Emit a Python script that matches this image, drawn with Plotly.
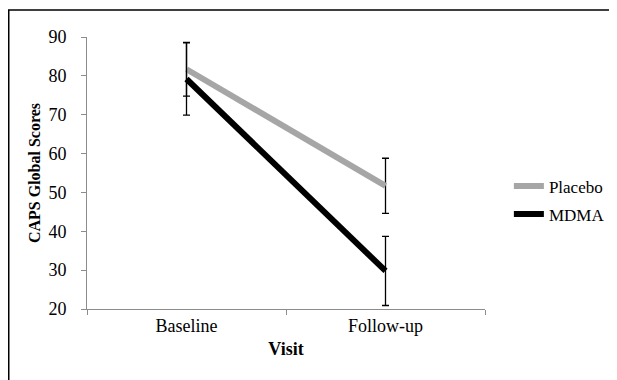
import plotly.graph_objects as go

visits = ["Baseline", "Follow-up"]
placebo = [81.7, 51.7]
placebo_err = [6.9, 7.1]
mdma = [79.2, 29.8]
mdma_err = [9.3, 8.9]
y_ticks = [20, 30, 40, 50, 60, 70, 80, 90]

FONT = "Liberation Serif"
AXIS_COLOR = "#8c8c8c"

fig = go.Figure()
fig.add_trace(go.Scatter(
    x=visits, y=placebo, name="Placebo", mode="lines", legendgroup="p",
    line=dict(color="#a6a6a6", width=6),
    error_y=dict(type="data", array=placebo_err, visible=True,
                 color="black", thickness=1.3, width=3.5),
))
fig.add_trace(go.Scatter(
    x=visits, y=mdma, name="MDMA", mode="lines", legendgroup="m",
    line=dict(color="black", width=6),
    error_y=dict(type="data", array=mdma_err, visible=True,
                 color="black", thickness=1.3, width=3.5),
))

W, H = 617, 380
L, T, PW, PH = 79, 29, 398, 272
fig.update_layout(
    width=W, height=H,
    margin=dict(l=L, r=W - L - PW, t=T, b=H - T - PH),
    paper_bgcolor="white", plot_bgcolor="white",
    font=dict(family=FONT, size=18, color="black"),
    showlegend=True,
    legend=dict(x=1.06, y=0.399, yanchor="middle", xanchor="left",
                font=dict(family=FONT, size=17), traceorder="grouped",
                tracegroupgap=3, bgcolor="rgba(0,0,0,0)"),
    xaxis=dict(
        range=[-0.5, 1.5], showline=True, linecolor=AXIS_COLOR, linewidth=1,
        ticks="outside", tickson="boundaries", ticklen=5, tickcolor=AXIS_COLOR,
        showgrid=False, zeroline=False,
        title=dict(text="<b>Visit</b>", font=dict(family=FONT, size=18), standoff=7),
    ),
    yaxis=dict(
        range=[20, 90], tickvals=y_ticks, showline=True, linecolor=AXIS_COLOR,
        linewidth=1, ticks="outside", ticklen=5, tickcolor=AXIS_COLOR,
        showgrid=False, zeroline=False, ticklabelstandoff=11,
        title=dict(text="<b>CAPS Global Scores</b>", font=dict(family=FONT, size=16), standoff=3),
    ),
)

# outer frame around the chart
fig.add_shape(type="rect", xref="paper", yref="paper",
              x0=(0.75 - L) / PW, x1=(604 - L) / PW,
              y0=-(H + 20 - T - PH) / PH, y1=(T + PH - 2) / PH,
              line=dict(color="black", width=1.5), fillcolor="rgba(0,0,0,0)")

fig.write_html("out.html")
